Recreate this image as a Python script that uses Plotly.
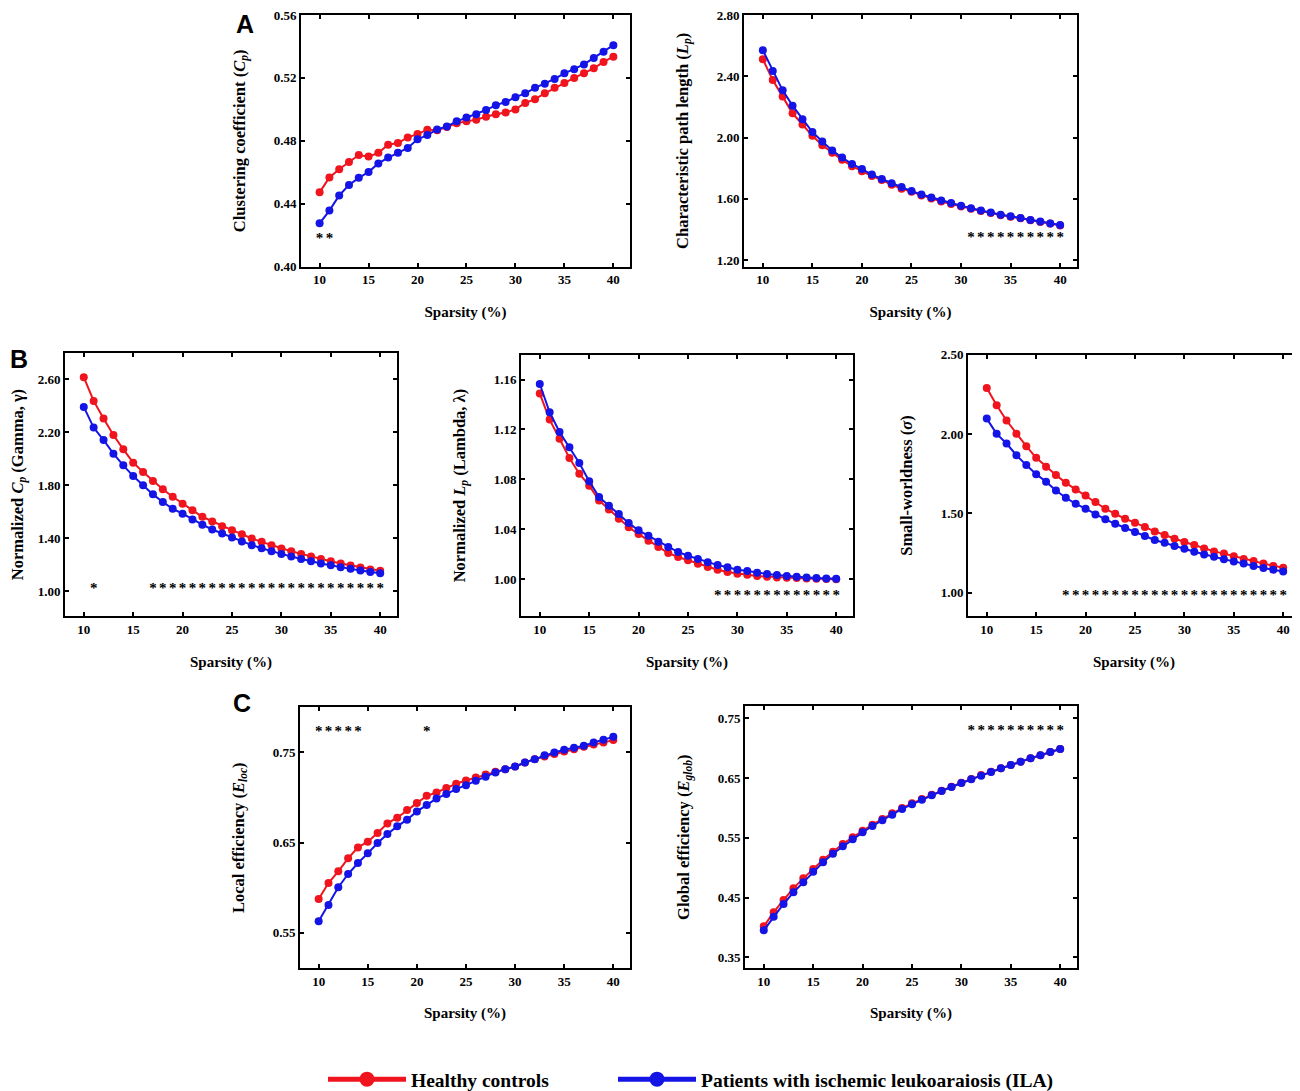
import plotly.graph_objects as go

# sparsity levels (%)
sparsity = list(range(10, 41))

# A: clustering coefficient
cp_hc = [0.4473, 0.4567, 0.4620, 0.4665, 0.4710, 0.4700, 0.4724, 0.4776, 0.4786, 0.4822,
         0.4843, 0.4871, 0.4867, 0.4888, 0.4912, 0.4924, 0.4935, 0.4953, 0.4969, 0.4980,
         0.5000, 0.5041, 0.5065, 0.5102, 0.5137, 0.5167, 0.5200, 0.5229, 0.5261, 0.5302, 0.5335]
cp_ila = [0.4276, 0.4357, 0.4453, 0.4520, 0.4565, 0.4602, 0.4657, 0.4694, 0.4724, 0.4755,
          0.4810, 0.4837, 0.4873, 0.4892, 0.4924, 0.4949, 0.4969, 0.4996, 0.5027, 0.5047,
          0.5078, 0.5102, 0.5137, 0.5163, 0.5194, 0.5229, 0.5255, 0.5286, 0.5327, 0.5367, 0.5408]

# A: characteristic path length
lp_hc = [2.511, 2.375, 2.267, 2.158, 2.085, 2.011, 1.949, 1.900, 1.854, 1.813,
         1.779, 1.748, 1.723, 1.691, 1.666, 1.645, 1.622, 1.601, 1.582, 1.566,
         1.549, 1.534, 1.520, 1.507, 1.492, 1.482, 1.472, 1.459, 1.449, 1.438, 1.426]
lp_ila = [2.570, 2.434, 2.308, 2.208, 2.120, 2.036, 1.974, 1.915, 1.869, 1.827,
          1.794, 1.758, 1.729, 1.702, 1.677, 1.650, 1.628, 1.608, 1.589, 1.572,
          1.555, 1.538, 1.524, 1.511, 1.496, 1.486, 1.474, 1.461, 1.451, 1.438, 1.428]

# B: gamma
gamma_hc = [2.615, 2.436, 2.303, 2.179, 2.071, 1.970, 1.900, 1.832, 1.769, 1.713,
            1.660, 1.612, 1.562, 1.527, 1.491, 1.461, 1.431, 1.398, 1.373, 1.348,
            1.323, 1.302, 1.282, 1.262, 1.244, 1.227, 1.209, 1.194, 1.179, 1.164, 1.154]
gamma_ila = [2.391, 2.235, 2.141, 2.038, 1.950, 1.869, 1.799, 1.731, 1.673, 1.622,
             1.585, 1.542, 1.502, 1.466, 1.436, 1.406, 1.376, 1.348, 1.325, 1.302,
             1.282, 1.262, 1.244, 1.227, 1.209, 1.197, 1.181, 1.169, 1.156, 1.146, 1.136]

# B: lambda
lambda_hc = [1.1488, 1.1279, 1.1126, 1.0971, 1.0845, 1.0749, 1.0631, 1.0557, 1.0484, 1.0415,
             1.0361, 1.0308, 1.0257, 1.0209, 1.0177, 1.0150, 1.0123, 1.0096, 1.0075, 1.0056,
             1.0043, 1.0035, 1.0024, 1.0019, 1.0013, 1.0011, 1.0008, 1.0005, 1.0003, 1.0000, 0.9998]
lambda_ila = [1.1565, 1.1338, 1.1180, 1.1057, 1.0931, 1.0784, 1.0658, 1.0589, 1.0522, 1.0450,
              1.0391, 1.0348, 1.0300, 1.0257, 1.0217, 1.0187, 1.0160, 1.0134, 1.0112, 1.0094,
              1.0075, 1.0064, 1.0051, 1.0040, 1.0032, 1.0024, 1.0019, 1.0013, 1.0008, 1.0005, 1.0003]

# B: sigma
sigma_hc = [2.290, 2.181, 2.085, 2.001, 1.923, 1.850, 1.793, 1.741, 1.692, 1.650,
            1.613, 1.571, 1.529, 1.497, 1.466, 1.441, 1.413, 1.386, 1.363, 1.340,
            1.319, 1.300, 1.279, 1.260, 1.246, 1.229, 1.212, 1.199, 1.183, 1.168, 1.157]
sigma_ila = [2.097, 2.001, 1.940, 1.866, 1.804, 1.747, 1.699, 1.644, 1.598, 1.560,
             1.529, 1.493, 1.462, 1.434, 1.407, 1.382, 1.357, 1.332, 1.315, 1.294,
             1.277, 1.258, 1.241, 1.227, 1.210, 1.197, 1.183, 1.168, 1.155, 1.145, 1.134]

# C: local efficiency
eloc_hc = [0.5876, 0.6053, 0.6183, 0.6327, 0.6448, 0.6511, 0.6607, 0.6714, 0.6777, 0.6862,
           0.6939, 0.7020, 0.7057, 0.7105, 0.7153, 0.7190, 0.7223, 0.7256, 0.7286, 0.7315,
           0.7345, 0.7389, 0.7426, 0.7456, 0.7482, 0.7511, 0.7537, 0.7563, 0.7589, 0.7611, 0.7637]
eloc_ila = [0.5629, 0.5810, 0.6006, 0.6153, 0.6275, 0.6382, 0.6496, 0.6596, 0.6681, 0.6755,
            0.6847, 0.6917, 0.6991, 0.7039, 0.7094, 0.7138, 0.7186, 0.7231, 0.7279, 0.7315,
            0.7345, 0.7389, 0.7426, 0.7470, 0.7500, 0.7530, 0.7552, 0.7574, 0.7611, 0.7640, 0.7673]

# C: global efficiency
eglob_hc = [0.4019, 0.4253, 0.4460, 0.4655, 0.4822, 0.4978, 0.5135, 0.5268, 0.5397, 0.5508,
            0.5620, 0.5720, 0.5815, 0.5910, 0.5999, 0.6077, 0.6150, 0.6222, 0.6289, 0.6356,
            0.6423, 0.6485, 0.6552, 0.6607, 0.6663, 0.6719, 0.6775, 0.6831, 0.6881, 0.6937, 0.6987]
eglob_ila = [0.3952, 0.4181, 0.4393, 0.4588, 0.4755, 0.4934, 0.5090, 0.5235, 0.5358, 0.5475,
             0.5592, 0.5698, 0.5793, 0.5888, 0.5983, 0.6061, 0.6139, 0.6211, 0.6284, 0.6351,
             0.6418, 0.6479, 0.6540, 0.6602, 0.6663, 0.6719, 0.6775, 0.6831, 0.6881, 0.6937, 0.6987]

# significance stars (sparsity levels)
stars_cp = [10, 11]
stars_lp = list(range(31, 41))
stars_gamma = [11] + list(range(17, 41))
stars_lambda = list(range(28, 41))
stars_sigma = list(range(18, 41))
stars_eloc = [10, 11, 12, 13, 14, 21]
stars_eglob = list(range(31, 41))

RED = "#f0141e"
BLUE = "#1414e6"
FONT = "Liberation Serif"
W, H = 1300, 1091
OX, OY = 7, 8  # page body margin the browser adds around the plot div


def px_x(px):
    return min(max((px - OX) / W, 0), 1)


def px_y(py):
    return min(max(1 - (py - OY) / H, 0), 1)


# panel boxes in screen pixels: (left, right, top, bottom)
panels = [
    dict(hc=cp_hc, ila=cp_ila, stars=stars_cp, sy=0.4175, box=(300, 629, 15, 267),
         yr=[0.40, 0.56], yt=[0.40, 0.44, 0.48, 0.52, 0.56], so=24,
         title="Clustering coefficient (<i>C<sub>p</sub></i>)"),
    dict(hc=lp_hc, ila=lp_ila, stars=stars_lp, sy=1.342, box=(743, 1076, 15, 267),
         yr=[1.156, 2.80], yt=[1.20, 1.60, 2.00, 2.40, 2.80], so=24,
         title="Characteristic path length (<i>L<sub>p</sub></i>)"),
    dict(hc=gamma_hc, ila=gamma_ila, stars=stars_gamma, sy=1.015, box=(64, 396, 353, 617),
         yr=[0.81, 2.80], yt=[1.00, 1.40, 1.80, 2.20, 2.60], so=12,
         title="Normalized <i>C<sub>p</sub></i> (Gamma, γ)"),
    dict(hc=lambda_hc, ila=lambda_ila, stars=stars_lambda, sy=0.9858, box=(520, 852, 355, 617),
         yr=[0.97, 1.18], yt=[1.00, 1.04, 1.08, 1.12, 1.16], so=24,
         title="Normalized <i>L<sub>p</sub></i> (Lambda, λ)"),
    dict(hc=sigma_hc, ila=sigma_ila, stars=stars_sigma, sy=0.98, box=(967, 1299, 355, 617),
         yr=[0.85, 2.50], yt=[1.00, 1.50, 2.00, 2.50], so=24,
         title="Small-worldness (<i>σ</i>)"),
    dict(hc=eloc_hc, ila=eloc_ila, stars=stars_eloc, sy=0.7725, box=(299, 629, 708, 969),
         yr=[0.511, 0.80], yt=[0.55, 0.65, 0.75], so=24,
         title="Local efficiency (<i>E<sub>loc</sub></i>)"),
    dict(hc=eglob_hc, ila=eglob_ila, stars=stars_eglob, sy=0.7275, box=(744, 1076, 707, 969),
         yr=[0.332, 0.77], yt=[0.35, 0.45, 0.55, 0.65, 0.75], so=24,
         title="Global efficiency (<i>E<sub>glob</sub></i>)"),
]

fig = go.Figure()
layout = {}
for i, p in enumerate(panels, start=1):
    xa = "x" if i == 1 else f"x{i}"
    ya = "y" if i == 1 else f"y{i}"
    for vals, col in [(p["hc"], RED), (p["ila"], BLUE)]:
        fig.add_trace(go.Scatter(
            x=sparsity, y=vals, mode="lines+markers", xaxis=xa, yaxis=ya,
            line=dict(color=col, width=2), marker=dict(color=col, size=8),
            showlegend=False))
    fig.add_trace(go.Scatter(
        x=p["stars"], y=[p["sy"]] * len(p["stars"]), mode="text", text=["*"] * len(p["stars"]),
        textfont=dict(family=FONT, size=15, color="black", weight="bold"),
        xaxis=xa, yaxis=ya, showlegend=False))

    l, r, t, b = p["box"]
    axis_common = dict(showline=True, linecolor="black", linewidth=2, mirror="ticks",
                       ticks="inside", ticklen=4, tickwidth=1.5, tickcolor="black",
                       showgrid=False, zeroline=False, automargin=False,
                       ticklabeloverflow="allow",
                       tickfont=dict(family=FONT, size=13, color="black", weight="bold"))
    layout["xaxis" if i == 1 else f"xaxis{i}"] = dict(
        axis_common, domain=[px_x(l), px_x(r)], anchor=ya, range=[8.1, 41.7],
        tickvals=[10, 15, 20, 25, 30, 35, 40],
        title=dict(text="Sparsity (%)", standoff=20,
                   font=dict(family=FONT, size=15, color="black", weight="bold")))
    layout["yaxis" if i == 1 else f"yaxis{i}"] = dict(
        axis_common, domain=[px_y(b), px_y(t)], anchor=xa, range=p["yr"],
        tickvals=p["yt"], tickformat=".2f",
        title=dict(text=p["title"], standoff=p["so"],
                   font=dict(family=FONT, size=16.5, color="black", weight="bold")))

# legend entries, one legend each so they can be placed apart
fig.add_trace(go.Scatter(x=[None], y=[None], mode="lines+markers", name="Healthy controls",
                         line=dict(color=RED, width=5), marker=dict(color=RED, size=15),
                         legend="legend"))
fig.add_trace(go.Scatter(x=[None], y=[None], mode="lines+markers",
                         name="Patients with ischemic leukoaraiosis (ILA)",
                         line=dict(color=BLUE, width=5), marker=dict(color=BLUE, size=15),
                         legend="legend2"))

letters = [("A", 244, 24), ("B", 18, 359), ("C", 241, 704)]
annotations = [dict(text=f"<b>{s}</b>", x=px_x(px), y=px_y(py), xref="paper", yref="paper",
                    xanchor="center", yanchor="middle", showarrow=False,
                    font=dict(family="Liberation Sans", size=25, color="black"))
               for s, px, py in letters]

legend_common = dict(orientation="h", xanchor="left", y=px_y(1080), yanchor="middle",
                     itemwidth=78, bgcolor="rgba(0,0,0,0)",
                     font=dict(family=FONT, size=19.5, color="black", weight="bold"))

fig.update_layout(
    **layout,
    width=W, height=H, margin=dict(l=0, r=0, t=0, b=0),
    plot_bgcolor="white", paper_bgcolor="white",
    annotations=annotations,
    legend=dict(legend_common, x=px_x(315 + OX)),
    legend2=dict(legend_common, x=px_x(605 + OX)),
)

fig.write_html("out.html")
